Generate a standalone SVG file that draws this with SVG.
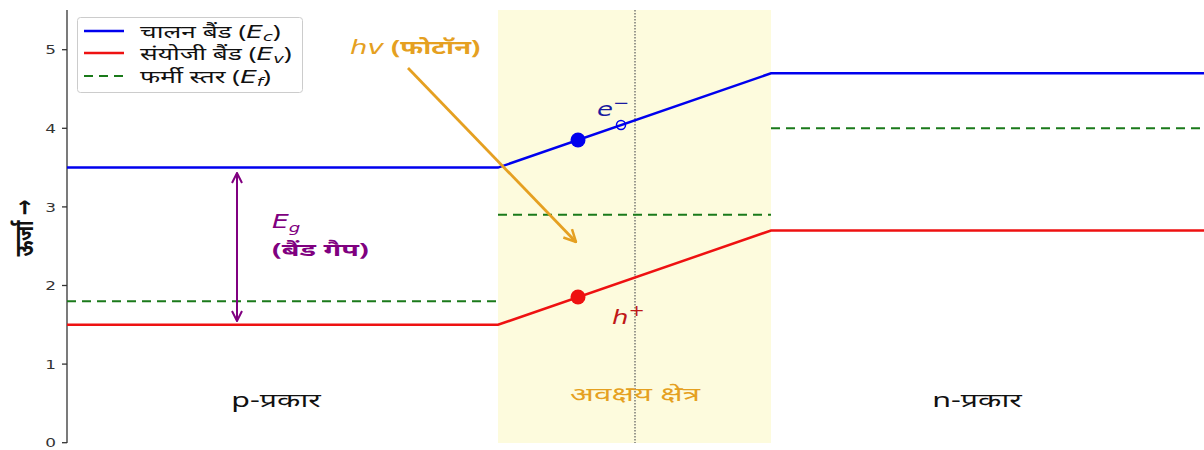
<svg xmlns="http://www.w3.org/2000/svg" width="1204" height="450" viewBox="0 0 1204 450">
<style>
text { font-family: "Noto Sans", "Noto Sans Devanagari", "DejaVu Sans", sans-serif; }
.tick { font-size: 13px; fill: #333; text-anchor: end; font-family: "DejaVu Sans", sans-serif; }
.ec { stroke: #0000ee; stroke-width: 2.5; fill: none; }
.ev { stroke: #ee1111; stroke-width: 2.5; fill: none; }
.ef { stroke: #1a7a1a; stroke-width: 2; fill: none; stroke-dasharray: 9 6; }
.leg { font-size: 17.5px; fill: #111; }
.reg { font-size: 19px; text-anchor: middle; }
.it { font-style: italic; font-family: "DejaVu Sans", sans-serif; }
</style>
<defs>
<marker id="chevO" viewBox="0 0 14 14" refX="13" refY="7" markerWidth="14" markerHeight="14" markerUnits="userSpaceOnUse" orient="auto">
<path d="M1,1 L13,7 L1,13" fill="none" stroke="#e5a021" stroke-width="2.5"/>
</marker>
<marker id="chevP" viewBox="0 0 12 12" refX="11" refY="6" markerWidth="12" markerHeight="12" markerUnits="userSpaceOnUse" orient="auto-start-reverse">
<path d="M1,1 L11,6 L1,11" fill="none" stroke="#800080" stroke-width="2"/>
</marker>
</defs>
<rect width="1204" height="450" fill="#ffffff"/>
<g id="depletion-region">
<rect x="498" y="10" width="273" height="433" fill="#fdfbdd"/>
<line x1="635" y1="10" x2="635" y2="443" stroke="#666" stroke-width="1.3" stroke-dasharray="1.5 1.5"/>
</g>
<g id="axis">
<line x1="67" y1="10" x2="67" y2="443" stroke="#333" stroke-width="1.3"/>
<g stroke="#333" stroke-width="1.3">
<line x1="62" y1="442.7" x2="67" y2="442.7"/>
<line x1="62" y1="364.1" x2="67" y2="364.1"/>
<line x1="62" y1="285.5" x2="67" y2="285.5"/>
<line x1="62" y1="206.9" x2="67" y2="206.9"/>
<line x1="62" y1="128.3" x2="67" y2="128.3"/>
<line x1="62" y1="49.7" x2="67" y2="49.7"/>
</g>
<g transform="scale(1.3 1)">
<text class="tick" x="43.1" y="447.5">0</text>
<text class="tick" x="43.1" y="368.9">1</text>
<text class="tick" x="43.1" y="290.3">2</text>
<text class="tick" x="43.1" y="211.7">3</text>
<text class="tick" x="43.1" y="133.1">4</text>
<text class="tick" x="43.1" y="54.5">5</text>
</g>
<text x="0" y="0" font-size="19" font-weight="bold" fill="#111" text-anchor="middle" transform="translate(33 228) rotate(-90) scale(1 1.35)">ऊर्जा →</text>
</g>
<g id="connectors">
<polyline class="ec" points="67,167.6 498,167.6 771,73.3 1204,73.3"/>
<polyline class="ev" points="67,324.8 498,324.8 771,230.5 1204,230.5"/>
<line class="ef" x1="67" y1="301.2" x2="498" y2="301.2"/>
<line class="ef" x1="498" y1="214.7" x2="771" y2="214.7"/>
<line class="ef" x1="771" y1="128.3" x2="1204" y2="128.3"/>
<line x1="408" y1="68" x2="576" y2="242" stroke="#e5a021" stroke-width="2.8" marker-end="url(#chevO)"/>
<line x1="237" y1="173" x2="237" y2="321" stroke="#800080" stroke-width="2" marker-start="url(#chevP)" marker-end="url(#chevP)"/>
</g>
<g id="electron">
<circle cx="578" cy="140" r="7.5" fill="#0000ee"/>
<circle cx="621" cy="125" r="4.5" fill="none" stroke="#0000ee" stroke-width="1.5"/>
<text class="it" x="0" y="0" font-size="20" fill="#1a1aa0" transform="translate(597 116) scale(1.3 1)">e<tspan font-size="15" dy="-8">−</tspan></text>
</g>
<g id="hole">
<circle cx="578" cy="297" r="7.5" fill="#ee1111"/>
<text class="it" x="0" y="0" font-size="20" fill="#c01818" transform="translate(612 324) scale(1.3 1)">h<tspan font-size="15" dy="-8">+</tspan></text>
</g>
<g id="photon-label">
<text x="0" y="0" font-size="19" fill="#e5a021" transform="translate(350 54) scale(1.45 1)"><tspan class="it">hv</tspan> <tspan font-weight="bold">(फोटॉन)</tspan></text>
</g>
<g id="band-gap-label">
<text class="it" x="0" y="0" font-size="19" fill="#800080" transform="translate(272 228) scale(1.4 1)">E<tspan font-size="13" dy="4">g</tspan></text>
<text x="0" y="0" font-size="18" font-weight="bold" fill="#800080" transform="translate(272 256) scale(1.6 1)">(बैंड गैप)</text>
</g>
<g id="region-labels">
<text class="reg" x="0" y="0" fill="#111" transform="translate(276 407) scale(1.6 1)">p-प्रकार</text>
<text class="reg" x="0" y="0" fill="#e5a021" transform="translate(635 401) scale(1.65 1)">अवक्षय क्षेत्र</text>
<text class="reg" x="0" y="0" fill="#111" transform="translate(977 407) scale(1.6 1)">n-प्रकार</text>
</g>
<g id="legend">
<rect x="77.5" y="17.5" width="225" height="75" rx="3" fill="#ffffff" fill-opacity="0.85" stroke="#cccccc" stroke-width="1"/>
<line x1="84" y1="31" x2="124" y2="31" stroke="#0000ee" stroke-width="2.5"/>
<line x1="84" y1="53" x2="124" y2="53" stroke="#ee1111" stroke-width="2.5"/>
<line x1="84" y1="76" x2="124" y2="76" stroke="#1a7a1a" stroke-width="2" stroke-dasharray="9 6"/>
<text class="leg" x="0" y="0" transform="translate(140 38) scale(1.5 1)">चालन बैंड (<tspan class="it">E</tspan><tspan class="it" font-size="12" dy="3">c</tspan><tspan dy="-3">)</tspan></text>
<text class="leg" x="0" y="0" transform="translate(140 60) scale(1.5 1)">संयोजी बैंड (<tspan class="it">E</tspan><tspan class="it" font-size="12" dy="3">v</tspan><tspan dy="-3">)</tspan></text>
<text class="leg" x="0" y="0" transform="translate(140 83) scale(1.5 1)">फर्मी स्तर (<tspan class="it">E</tspan><tspan class="it" font-size="12" dy="3">f</tspan><tspan dy="-3">)</tspan></text>
</g>
</svg>
